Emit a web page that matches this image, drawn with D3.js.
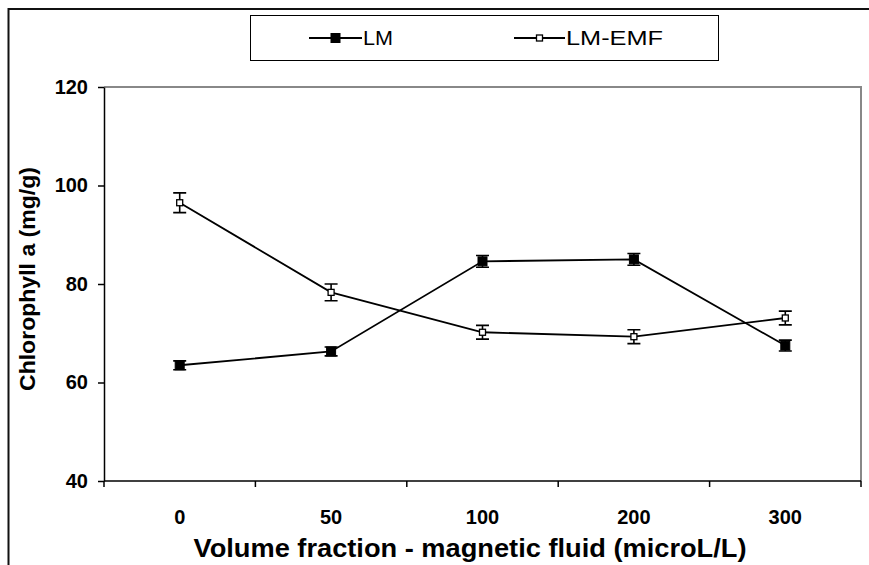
<!DOCTYPE html>
<html>
<head>
<meta charset="utf-8">
<script src="https://cdn.jsdelivr.net/npm/d3@7"></script>
<style>
    body { margin: 0; background: #fff; }
    svg { display: block; }
</style>
</head>
<body>
<div id="chart"></div>
<script>
const categories = ["0", "50", "100", "200", "300"];
const lmValues = [63.5, 66.3, 84.6, 85.0, 67.5];
const lmErrors = [0.9, 0.9, 1.2, 1.2, 1.1];
const emfValues = [96.5, 78.3, 70.2, 69.3, 73.1];
const emfErrors = [2.0, 1.7, 1.4, 1.4, 1.4];
const yTicks = [40, 60, 80, 100, 120];
const seriesNames = ["LM", "LM-EMF"];
const xTitle = "Volume fraction - magnetic fluid (microL/L)";
const yTitle = "Chlorophyll a (mg/g)";

const width = 869, height = 565;
const font = "'Liberation Sans', Arial, sans-serif";

const svg = d3.select("#chart")
    .append("svg")
    .attr("width", width)
    .attr("height", height);

// outer chart border (runs off the right and bottom edges)
svg.append("rect")
    .attr("x", 8.5).attr("y", 9)
    .attr("width", 900).attr("height", 600)
    .attr("fill", "none")
    .attr("stroke", "#111")
    .attr("stroke-width", 2);

const x = d3.scaleBand().domain(categories).range([104, 861]);
const y = d3.scaleLinear().domain([40, 120]).range([481, 87]);
const cx = d => x(d) + x.bandwidth() / 2;

// grey frame on top and right
svg.append("path")
    .attr("d", `M${x.range()[0]},${y(120)}H${x.range()[1]}V${y(40)}`)
    .attr("fill", "none")
    .attr("stroke", "#888")
    .attr("stroke-width", 2);

// y axis
const yAxis = svg.append("g")
    .attr("transform", `translate(${x.range()[0]},0)`)
    .call(d3.axisLeft(y).tickValues(yTicks).tickSize(6).tickPadding(10).tickSizeOuter(0));
yAxis.select(".domain").attr("stroke", "#000").attr("stroke-width", 1.5);
yAxis.selectAll(".tick line").attr("stroke", "#000").attr("stroke-width", 1.5);
yAxis.selectAll(".tick text")
    .attr("fill", "#000")
    .style("font-family", font)
    .style("font-size", "20px")
    .style("font-weight", "bold");

// x axis: ticks sit between categories
const xAxis = svg.append("g");
xAxis.append("line")
    .attr("x1", x.range()[0]).attr("x2", x.range()[1])
    .attr("y1", y(40)).attr("y2", y(40))
    .attr("stroke", "#000").attr("stroke-width", 1.5);
xAxis.selectAll(".xtick")
    .data(categories.map(c => x(c)).concat([x.range()[1]]))
    .enter()
    .append("line")
    .attr("x1", d => d).attr("x2", d => d)
    .attr("y1", y(40)).attr("y2", y(40) + 6)
    .attr("stroke", "#000").attr("stroke-width", 1.5);
xAxis.selectAll(".xlabel")
    .data(categories)
    .enter()
    .append("text")
    .attr("x", d => cx(d))
    .attr("y", 524)
    .attr("text-anchor", "middle")
    .style("font-family", font)
    .style("font-size", "20px")
    .style("font-weight", "bold")
    .text(d => d);

// axis titles
svg.append("text")
    .attr("x", 470)
    .attr("y", 557)
    .attr("text-anchor", "middle")
    .attr("textLength", 553)
    .attr("lengthAdjust", "spacingAndGlyphs")
    .style("font-family", font)
    .style("font-size", "25px")
    .style("font-weight", "bold")
    .text(xTitle);

svg.append("text")
    .attr("transform", "translate(35,279) rotate(-90)")
    .attr("text-anchor", "middle")
    .attr("textLength", 224)
    .attr("lengthAdjust", "spacingAndGlyphs")
    .style("font-family", font)
    .style("font-size", "22px")
    .style("font-weight", "bold")
    .text(yTitle);

// series
const series = [
    { name: seriesNames[0], values: lmValues, errors: lmErrors, filled: true },
    { name: seriesNames[1], values: emfValues, errors: emfErrors, filled: false }
];

const line = d3.line()
    .x((d, i) => cx(categories[i]))
    .y(d => y(d));

series.forEach(s => {
    const g = svg.append("g");
    const pts = s.values.map((v, i) => ({ cat: categories[i], v: v, e: s.errors[i] }));

    // error bars
    g.selectAll(".err")
        .data(pts)
        .enter()
        .append("path")
        .attr("d", d => {
            const px = cx(d.cat), top = y(d.v + d.e), bot = y(d.v - d.e);
            return `M${px},${top}V${bot}M${px - 6.5},${top}H${px + 6.5}M${px - 6.5},${bot}H${px + 6.5}`;
        })
        .attr("fill", "none")
        .attr("stroke", "#000")
        .attr("stroke-width", 1.6);

    g.append("path")
        .datum(s.values)
        .attr("d", line)
        .attr("fill", "none")
        .attr("stroke", "#000")
        .attr("stroke-width", 1.8);

    const size = s.filled ? 9 : 6;
    g.selectAll(".mark")
        .data(pts)
        .enter()
        .append("rect")
        .attr("x", d => cx(d.cat) - size / 2)
        .attr("y", d => y(d.v) - size / 2)
        .attr("width", size)
        .attr("height", size)
        .attr("fill", s.filled ? "#000" : "#fff")
        .attr("stroke", "#000")
        .attr("stroke-width", s.filled ? 1 : 1.3);
});

// legend
const legend = svg.append("g");
legend.append("rect")
    .attr("x", 250.5).attr("y", 15.5)
    .attr("width", 468).attr("height", 45)
    .attr("fill", "#fff")
    .attr("stroke", "#000")
    .attr("stroke-width", 1);

const legendItems = [
    { name: seriesNames[0], x0: 309, x1: 362, size: 9, filled: true, w: 30 },
    { name: seriesNames[1], x0: 514, x1: 565, size: 6, filled: false, w: 97 }
];
legendItems.forEach(it => {
    const ly = 38;
    legend.append("line")
        .attr("x1", it.x0).attr("x2", it.x1)
        .attr("y1", ly).attr("y2", ly)
        .attr("stroke", "#000").attr("stroke-width", 1.8);
    const mx = (it.x0 + it.x1) / 2;
    legend.append("rect")
        .attr("x", mx - it.size / 2).attr("y", ly - it.size / 2)
        .attr("width", it.size).attr("height", it.size)
        .attr("fill", it.filled ? "#000" : "#fff")
        .attr("stroke", "#000")
        .attr("stroke-width", it.filled ? 1 : 1.3);
    legend.append("text")
        .attr("x", it.x1 + 1)
        .attr("y", ly + 7)
        .attr("textLength", it.w)
        .attr("lengthAdjust", "spacingAndGlyphs")
        .style("font-family", font)
        .style("font-size", "20px")
        .text(it.name);
});
</script>
</body>
</html>
